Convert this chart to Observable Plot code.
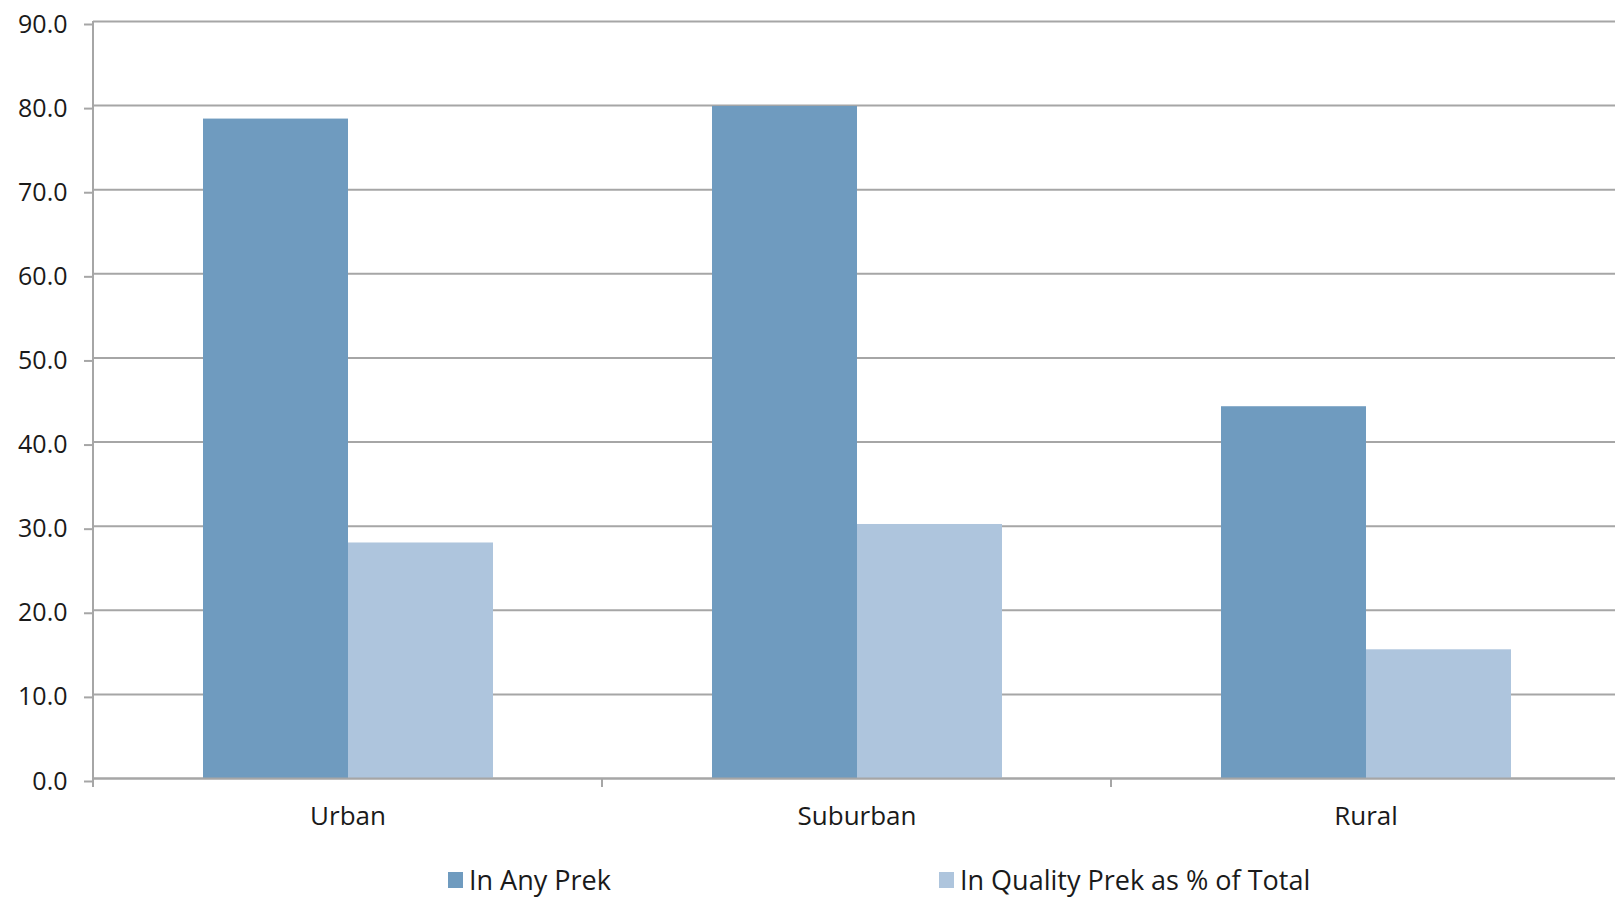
<!DOCTYPE html>
<html>
<head>
<meta charset="utf-8">
<script src="https://cdn.jsdelivr.net/npm/d3@7"></script>
<script src="https://cdn.jsdelivr.net/npm/@observablehq/plot@0.6"></script>
<style>
  html, body { margin: 0; padding: 0; background: #fff; overflow: hidden; }
  #wrap { position: relative; width: 1615px; height: 897px; overflow: hidden; font-family: "Open Sans", sans-serif; color: #1a1a1a; }
  #chart svg { display: block; max-width: none !important; }
  #legend { position: absolute; top: 866px; left: 0; width: 1615px; height: 28px; }
  .item { position: absolute; top: 0; display: flex; align-items: flex-start; font-size: 27px; line-height: 28px; white-space: nowrap; }
  .sw { width: 15px; height: 16px; margin-top: 6px; margin-right: 6px; }
</style>
</head>
<body>
<div id="wrap">
  <div id="chart"></div>
  <div id="legend"></div>
</div>
<script>
const categories = ["Urban", "Suburban", "Rural"];
const series = ["In Any Prek", "In Quality Prek as % of Total"];
const inAnyPrek = [78.4, 79.9, 44.2];
const inQualityPrek = [28.0, 30.2, 15.3];
const yTicks = [0, 10, 20, 30, 40, 50, 60, 70, 80, 90];
const colors = ["#6f9bbf", "#aec5dd"];

const data = [];
categories.forEach((c, i) => {
  data.push({category: c, series: series[0], value: inAnyPrek[i]});
  data.push({category: c, series: series[1], value: inQualityPrek[i]});
});

const gray = "#a6a6a6";
const W = 1621, H = 845;

const chart = Plot.plot({
  width: W,
  height: H,
  marginLeft: 92,
  marginRight: 0,
  marginTop: 21,
  marginBottom: 67,
  style: {fontFamily: "Open Sans, sans-serif", color: "#1a1a1a", background: "#fff", maxWidth: "none"},
  fx: {domain: categories, padding: 0},
  x: {domain: series, paddingInner: 0, paddingOuter: 0.753, axis: null},
  y: {domain: [0, 90]},
  color: {domain: series, range: colors},
  marks: [
    Plot.gridY(yTicks, {stroke: gray, strokeOpacity: 1, strokeWidth: 2}),
    Plot.barY(data, {fx: "category", x: "series", y: "value", fill: "series"}),
    Plot.ruleY([0], {stroke: gray, strokeWidth: 2}),
    Plot.axisY(yTicks, {
      anchor: "left", tickSize: 9, tickPadding: 17, stroke: gray, strokeWidth: 2,
      tickFormat: d => d.toFixed(1), fontSize: 25, dy: 3, label: null, fill: "#1a1a1a"
    }),
    Plot.axisFx({anchor: "bottom", tickSize: 0, tickPadding: 28, fontSize: 26, label: null, fill: "#1a1a1a"})
  ]
});

// category boundary ticks and the vertical axis line, positioned by the library's scales
const fxS = chart.scale("fx");
const yS = chart.scale("y");
const svg = d3.select(chart);
const y0 = yS.apply(0), yTop = yS.apply(90);
categories.forEach((c, i) => {
  const x = fxS.apply(c);
  svg.append("line")
    .attr("x1", x).attr("x2", x)
    .attr("y1", i === 0 ? yTop : y0).attr("y2", y0 + 9)
    .attr("stroke", gray).attr("stroke-width", 2);
});

document.getElementById("chart").appendChild(chart);

// legend
const legendLefts = [448, 939];
const legend = document.getElementById("legend");
series.forEach((s, i) => {
  const item = document.createElement("div");
  item.className = "item";
  item.style.left = legendLefts[i] + "px";
  const sw = document.createElement("div");
  sw.className = "sw";
  sw.style.background = colors[i];
  const t = document.createElement("span");
  t.textContent = s;
  item.appendChild(sw);
  item.appendChild(t);
  legend.appendChild(item);
});
</script>
</body>
</html>
